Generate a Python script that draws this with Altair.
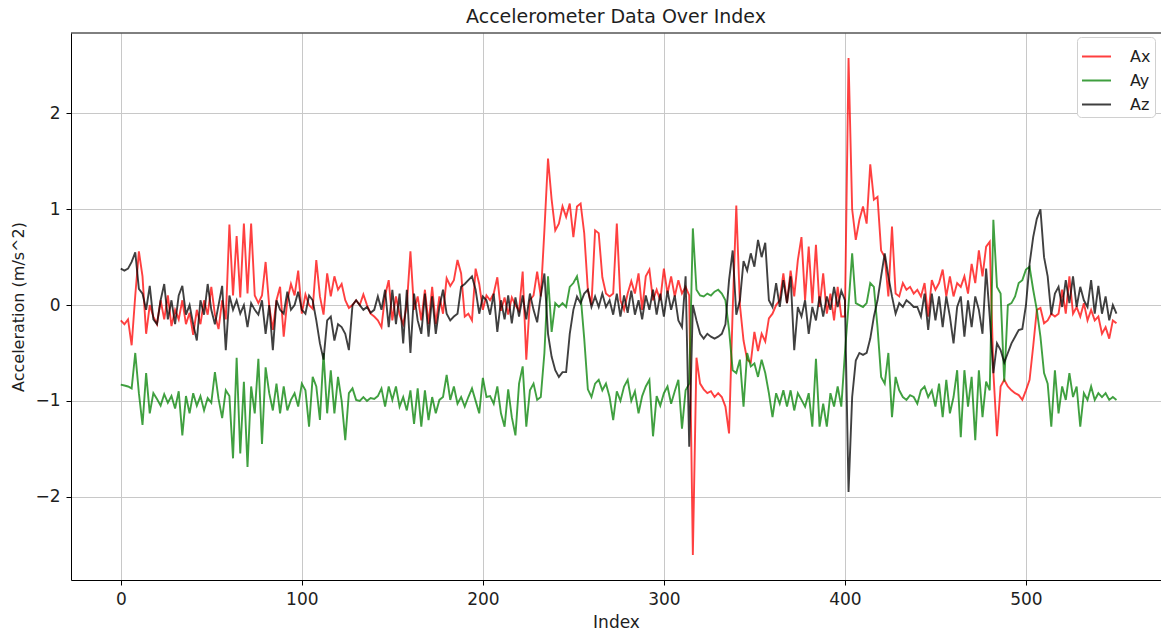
import altair as alt
import pandas as pd

# Sample index (every second sample of the recording)
IDX = list(range(0, 551, 2))

AX = [
    -0.16, -0.20, -0.15, -0.42, 0.10, 0.56, 0.30, -0.30, 0.00, -0.12,
    -0.20, 0.05, -0.15, 0.10, -0.22, -0.05, -0.15, 0.05, -0.20, -0.08,
    -0.31, -0.05, -0.20, 0.05, -0.10, 0.19, -0.10, -0.25, 0.05, -0.15,
    0.84, 0.10, 0.72, 0.08, 0.85, 0.12, 0.85, 0.10, 0.02, 0.10,
    0.45, -0.01, -0.26, 0.05, 0.19, -0.33, 0.05, 0.22, 0.10, 0.36,
    -0.09, 0.11, 0.00, -0.04, 0.47, 0.09, -0.10, 0.33, 0.09, 0.30,
    0.16, 0.22, 0.05, -0.03, 0.00, 0.05, 0.00, 0.11, 0.00, -0.09,
    -0.12, -0.16, -0.23, 0.10, 0.26, -0.16, 0.09, -0.10, -0.20, 0.00,
    0.56, -0.05, 0.09, -0.16, 0.16, -0.20, 0.19, -0.20, 0.09, -0.09,
    0.28, 0.20, 0.26, 0.47, 0.33, -0.12, -0.09, -0.16, 0.38, 0.22,
    -0.05, 0.10, 0.05, 0.12, 0.29, -0.06, 0.08, -0.10, 0.08, 0.00,
    -0.06, 0.35, -0.57, 0.05, 0.10, 0.35, 0.09, 0.78, 1.53, 1.10,
    0.78, 0.85, 1.03, 0.92, 1.06, 0.71, 1.03, 1.06, 0.75, 0.16,
    0.00, 0.78, 0.75, 0.29, 0.12, 0.09, 0.12, 0.85, 0.05, -0.05,
    0.12, 0.25, 0.12, 0.33, -0.05, 0.30, 0.37, 0.05, 0.16, 0.05,
    0.38, 0.12, 0.30, 0.09, 0.26, 0.12, 0.19, 0.10, -2.61, -0.55,
    -0.82, -0.88, -0.92, -0.90, -0.96, -0.92, -0.96, -1.06, -1.34, -0.05,
    1.04, 0.00, -0.37, -0.57, -0.60, -0.28, -0.48, -0.30, -0.38, -0.14,
    -0.09, 0.00, 0.05, 0.33, 0.02, 0.36, 0.09, 0.47, 0.71, 0.05,
    0.61, 0.02, 0.63, -0.02, 0.33, -0.09, 0.12, -0.16, 0.19, -0.12,
    -0.12, 2.58, 1.00, 0.68, 0.89, 1.03, 0.85, 1.47, 1.10, 1.13,
    0.57, 0.50, 0.09, 0.82, 0.12, 0.09, 0.23, 0.16, 0.19, 0.12,
    0.16, 0.09, 0.23, -0.12, 0.26, 0.16, 0.23, 0.37, 0.09, 0.30,
    0.09, 0.23, 0.19, 0.30, 0.12, 0.43, 0.23, 0.57, 0.30, 0.61,
    0.66, -0.70, -1.37, -0.85, -0.78, -0.85, -0.89, -0.92, -0.94, -0.99,
    -0.89, -0.78, -0.43, -0.05, -0.03, -0.19, -0.16, -0.09, -0.12, -0.09,
    0.16, -0.09, 0.30, -0.09, -0.02, -0.12, 0.02, -0.16, -0.05, -0.16,
    -0.12, -0.30, -0.23, -0.35, -0.16, -0.19,
]

AY = [
    -0.83, -0.84, -0.85, -0.87, -0.50, -0.92, -1.25, -0.71, -1.13, -0.92,
    -0.98, -1.05, -0.93, -1.02, -0.95, -1.08, -0.90, -1.36, -0.95, -1.13,
    -0.92, -1.05, -0.95, -1.10, -0.97, -1.02, -0.70, -0.98, -1.18, -0.89,
    -0.95, -1.60, -0.55, -1.55, -0.80, -1.69, -0.85, -1.13, -0.56, -1.45,
    -0.65, -0.92, -1.10, -0.82, -1.13, -0.85, -1.10, -0.99, -0.92, -1.06,
    -0.82, -0.89, -1.27, -0.75, -0.85, -1.20, -0.50, -1.13, -0.68, -1.13,
    -0.75, -1.00, -1.41, -0.92, -0.87, -0.99, -1.00, -0.96, -1.00, -0.97,
    -0.98, -0.95, -0.87, -1.06, -0.85, -0.99, -0.85, -1.06, -0.96, -1.10,
    -0.89, -1.24, -0.87, -1.27, -0.89, -1.20, -0.96, -1.13, -0.99, -0.96,
    -0.73, -0.99, -0.85, -1.03, -0.96, -1.06, -0.96, -0.87, -1.00, -1.13,
    -0.76, -0.96, -0.95, -1.03, -0.85, -1.13, -1.27, -0.88, -1.17, -1.36,
    -0.82, -0.64, -1.27, -0.89, -0.82, -0.99, -0.96, -0.50, 0.30, -0.28,
    0.02, -0.02, 0.02, -0.02, 0.19, 0.23, 0.30, 0.10, -0.35, -0.88,
    -0.96, -0.82, -0.78, -0.89, -0.82, -0.96, -1.20, -0.90, -1.00, -0.85,
    -0.78, -1.00, -0.90, -1.13, -0.95, -0.85, -0.78, -1.37, -0.95, -1.05,
    -0.92, -0.85, -1.03, -0.90, -0.78, -1.29, -0.89, -0.82, 0.80, 0.16,
    0.10, 0.09, 0.12, 0.10, 0.14, 0.16, 0.12, 0.05, -0.26, -0.68,
    -0.71, -0.57, -1.06, -0.50, -0.64, -0.61, -0.75, -0.57, -0.71, -0.92,
    -1.17, -0.92, -1.03, -0.89, -1.06, -0.89, -1.10, -0.92, -0.99, -1.06,
    -0.92, -1.27, -0.56, -1.27, -1.03, -1.27, -0.92, -1.06, -0.85, -1.06,
    -0.50, 0.00, 0.54, 0.02, 0.00, -0.02, 0.02, 0.23, 0.19, -0.23,
    -0.75, -0.82, -0.50, -1.17, -0.75, -0.89, -0.96, -0.99, -0.94, -0.96,
    -1.03, -0.89, -0.85, -0.96, -0.89, -1.06, -0.82, -1.17, -0.78, -1.13,
    -0.96, -0.68, -1.38, -0.68, -1.06, -0.75, -1.41, -0.68, -1.17, -0.80,
    -0.89, 0.89, 0.19, 0.12, -0.80, 0.00, 0.02, 0.09, 0.23, 0.26,
    0.37, 0.40, 0.16, -0.05, -0.33, -0.71, -0.82, -1.27, -0.68, -1.13,
    -0.85, -0.99, -0.71, -0.96, -0.85, -1.27, -0.92, -0.99, -0.85, -0.99,
    -0.92, -0.96, -0.92, -0.99, -0.96, -0.99,
]

AZ = [
    0.38, 0.36, 0.38, 0.45, 0.55, 0.17, 0.12, -0.05, 0.20, -0.15,
    -0.20, 0.05, 0.22, -0.15, 0.05, -0.20, 0.10, 0.20, -0.10, 0.00,
    -0.20, -0.37, 0.05, -0.10, 0.22, -0.05, -0.20, 0.00, 0.20, -0.47,
    0.10, -0.05, 0.05, -0.09, 0.00, -0.23, 0.02, -0.05, -0.10, 0.05,
    -0.30, 0.00, -0.47, 0.05, -0.05, -0.09, 0.14, -0.05, 0.00, 0.14,
    -0.05, -0.09, 0.10, 0.05, -0.16, -0.40, -0.57, -0.16, -0.12, -0.37,
    -0.20, -0.23, -0.30, -0.47, 0.00, 0.05, 0.00, -0.05, -0.02, -0.08,
    -0.05, 0.09, -0.05, 0.16, -0.23, 0.16, -0.20, 0.12, -0.40, 0.16,
    -0.50, 0.12, -0.16, -0.30, 0.12, -0.33, 0.09, -0.30, -0.02, 0.16,
    -0.09, -0.16, -0.12, -0.09, 0.19, 0.22, 0.26, 0.30, 0.16, -0.09,
    0.09, 0.05, -0.10, 0.12, -0.28, 0.05, -0.15, 0.10, -0.19, 0.08,
    -0.12, 0.10, -0.15, 0.12, -0.05, -0.18, 0.10, 0.33, -0.30, -0.54,
    -0.68, -0.75, -0.70, -0.70, -0.30, -0.05, 0.09, 0.02, 0.12, 0.16,
    -0.02, 0.09, -0.02, 0.12, -0.02, 0.05, -0.10, 0.12, -0.12, 0.10,
    -0.08, 0.15, -0.10, 0.05, -0.15, 0.10, -0.05, 0.16, -0.10, 0.12,
    -0.12, 0.15, -0.05, 0.10, -0.16, -0.23, 0.30, -1.48, 0.00, -0.16,
    -0.30, -0.35, -0.30, -0.33, -0.35, -0.33, -0.30, -0.20, 0.26, 0.57,
    -0.10, 0.05, 0.46, 0.36, 0.54, 0.40, 0.68, 0.50, 0.65, 0.05,
    -0.02, 0.23, -0.02, 0.26, 0.02, 0.30, -0.47, -0.02, -0.12, 0.05,
    -0.30, -0.02, -0.16, 0.09, -0.12, 0.09, -0.05, 0.19, -0.02, 0.15,
    0.05, -1.95, -0.96, -0.58, -0.50, -0.52, -0.50, -0.35, -0.12, 0.05,
    0.30, 0.54, 0.30, 0.09, -0.09, 0.02, -0.02, 0.05, 0.02, -0.02,
    -0.02, -0.12, 0.12, -0.26, 0.12, -0.16, 0.09, -0.23, 0.09, -0.12,
    -0.40, -0.02, 0.09, -0.33, 0.05, -0.23, 0.09, -0.05, -0.30, 0.38,
    -0.12, -0.71, -0.40, -0.47, -0.60, -0.50, -0.40, -0.33, -0.26, -0.25,
    0.00, 0.43, 0.71, 0.90, 1.00, 0.50, 0.30, -0.10, 0.12, 0.19,
    -0.02, 0.26, 0.02, 0.30, -0.02, 0.19, 0.05, -0.02, 0.26, -0.09,
    0.20, -0.09, 0.09, -0.16, 0.00, -0.09,
]

SERIES = ["Ax", "Ay", "Az"]
COLORS = ["#ff0000", "#008000", "#000000"]
X_TICKS = [0, 100, 200, 300, 400, 500]
Y_TICKS = [-2, -1, 0, 1, 2]

rows = []
for name, vals in zip(SERIES, (AX, AY, AZ)):
    for i, v in zip(IDX, vals):
        rows.append({"Index": i, "Acceleration": v, "Axis": name})
df = pd.DataFrame(rows)

W, H = 1090, 547
FONT = "DejaVu Sans"
TXT = "#1e1e1e"

xscale = alt.Scale(domain=[-27.5, 574.6], nice=False, zero=False)
yscale = alt.Scale(domain=[-2.87, 2.84], nice=False, zero=False)

x_axis = alt.Axis(values=X_TICKS, title="Index", grid=True, gridColor="#c8c8c8",
                  domainColor="black", tickColor="black", tickSize=5,
                  labelFontSize=17, labelPadding=6, labelColor=TXT,
                  titleFontSize=17, titleFontWeight="normal", titleColor=TXT,
                  titlePadding=7)
y_axis = alt.Axis(values=Y_TICKS, title="Acceleration (m/s^2)", grid=True,
                  gridColor="#c8c8c8", domainColor="black", tickColor="black",
                  tickSize=5, labelFontSize=17, labelPadding=6, labelColor=TXT,
                  labelExpr="replace(datum.label, '-', '\u2212')",
                  titleFontSize=16, titleFontWeight="normal", titleColor=TXT,
                  titlePadding=8)

color = alt.Color(
    "Axis:N",
    scale=alt.Scale(domain=SERIES, range=COLORS),
    legend=alt.Legend(
        title=None, orient="none", legendX=1006, legendY=4, direction="vertical",
        symbolType="stroke", symbolSize=841, symbolStrokeWidth=2, symbolOpacity=0.75,
        labelFontSize=16, labelColor=TXT, labelOffset=18, rowPadding=0,
        padding=4, cornerRadius=4, strokeColor="#d0d0d0", fillColor="white",
    ),
)

layers = []
for name in SERIES:
    layers.append(
        alt.Chart(df)
        .transform_filter(alt.datum.Axis == name)
        .mark_line(strokeWidth=1.9, opacity=0.75)
        .encode(
            x=alt.X("Index:Q", scale=xscale, axis=x_axis),
            y=alt.Y("Acceleration:Q", scale=yscale, axis=y_axis),
            color=color,
        )
    )

top_border = (
    alt.Chart(pd.DataFrame({"a": [0]}))
    .mark_rule(color="black", strokeWidth=1)
    .encode(y=alt.value(0), x=alt.value(0), x2=alt.value(W))
)

chart = (
    alt.layer(*layers, top_border)
    .properties(
        width=W, height=H,
        title=alt.TitleParams("Accelerometer Data Over Index", fontSize=19,
                              fontWeight="normal", font=FONT, color=TXT,
                              anchor="middle", offset=6),
        autosize=alt.AutoSizeParams(type="none"),
        padding={"left": 71, "top": 33, "right": 0, "bottom": 50},
    )
    .configure(font=FONT)
    .configure_view(stroke=None)
)

chart.save("out.html", embed_options={"renderer": "svg", "actions": False})
